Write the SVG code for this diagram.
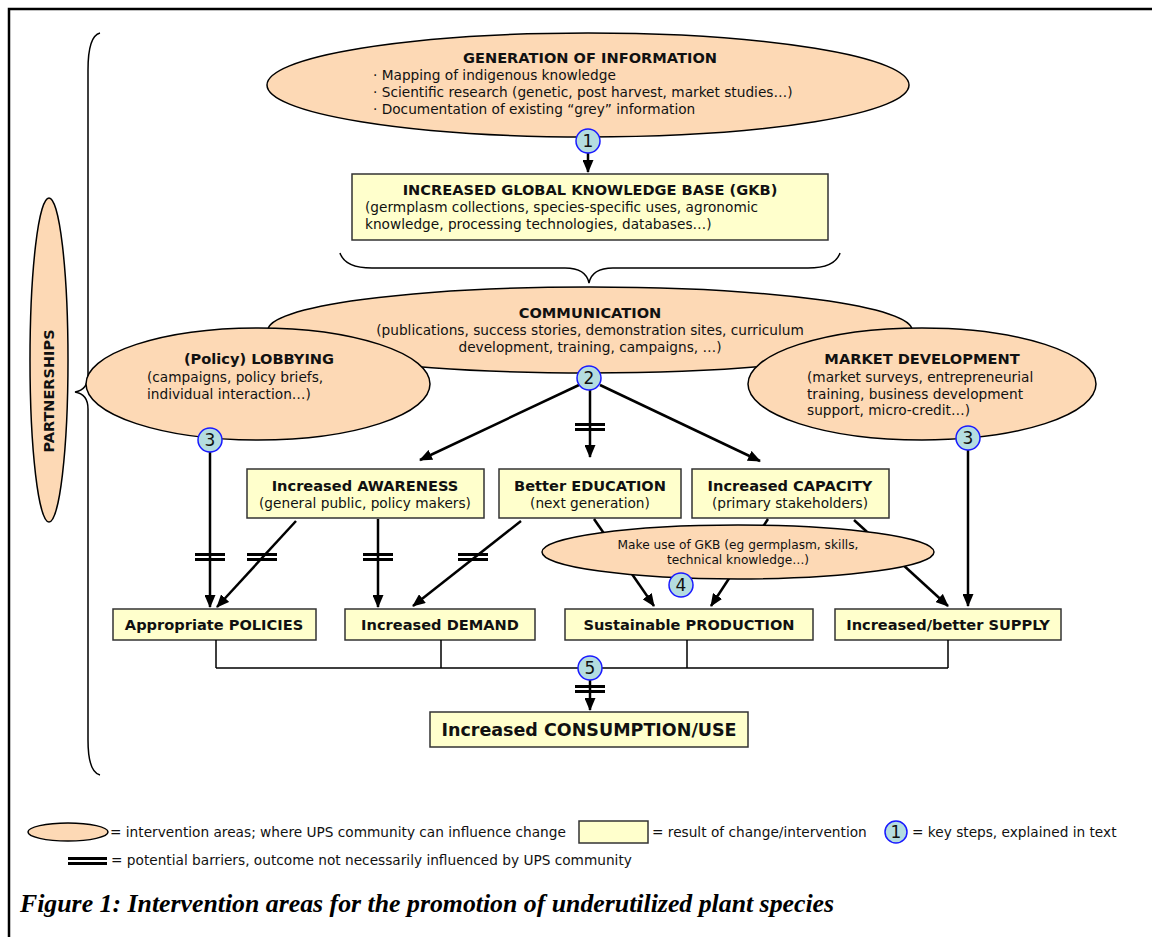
<svg xmlns="http://www.w3.org/2000/svg" width="1152" height="937" viewBox="0 0 1152 937">
<style>
  .ell { fill: #fdd9b5; stroke: #000; stroke-width: 1.5; }
  .box { fill: #ffffcc; stroke: #333; stroke-width: 1.5; }
  .step circle { fill: #b4dde0; stroke: #1a1aff; stroke-width: 1.5; }
  .step text { font-family: "DejaVu Sans", sans-serif; font-size: 17px; text-anchor: middle; fill: #111; }
  .t { font-family: "DejaVu Sans", sans-serif; fill: #111; }
  .b { font-weight: bold; font-size: 14.6px; }
  .r { font-size: 13.7px; }
  .c { text-anchor: middle; }
  .lg { font-size: 13.7px; }
  .conn { stroke: #000; stroke-width: 2.5; fill: none; }
  .thin { stroke: #000; stroke-width: 1.5; fill: none; }
  .brace { stroke: #000; stroke-width: 1.5; fill: none; }
</style>
<defs>
  <marker id="ah" markerUnits="userSpaceOnUse" markerWidth="13" markerHeight="11" refX="12" refY="5.5" orient="auto">
    <path d="M0,0 L13,5.5 L0,11 z" fill="#000"/>
  </marker>
  <g id="bar">
    <rect x="-15" y="-4" width="30" height="3" fill="#000"/>
    <rect x="-15" y="1" width="30" height="3" fill="#000"/>
  </g>
</defs>
<rect width="1152" height="937" fill="#fff"/>
<path d="M9,940 L9,9 L1160,9" fill="none" stroke="#000" stroke-width="2.5"/>

<g id="partnerships">
  <ellipse class="ell" cx="49" cy="360" rx="19" ry="162"/>
  <text class="t" font-weight="bold" font-size="14.5" text-anchor="middle" transform="translate(54,391) rotate(-90)">PARTNERSHIPS</text>
</g>
<path class="brace" d="M100,33 Q88,36 88,70 L88,375 Q88,390 75,392 Q88,394 88,409 L88,740 Q88,772 100,775"/>
<path class="brace" d="M340,253 Q345,268 372,268 L565,268 Q586,268 589,283 Q592,268 613,268 L808,268 Q835,268 840,253"/>

<g id="generation">
  <ellipse class="ell" cx="588" cy="85" rx="321" ry="52"/>
  <text class="t b c" x="590" y="63">GENERATION OF INFORMATION</text>
  <text class="t r" x="373" y="80">· Mapping of indigenous knowledge</text>
  <text class="t r" x="373" y="97">· Scientific research (genetic, post harvest, market studies…)</text>
  <text class="t r" x="373" y="114">· Documentation of existing “grey” information</text>
</g>

<g id="gkb">
  <rect class="box" x="352" y="174" width="476" height="66"/>
  <text class="t b c" x="590" y="195">INCREASED GLOBAL KNOWLEDGE BASE (GKB)</text>
  <text class="t r" x="365" y="212">(germplasm collections, species-specific uses, agronomic</text>
  <text class="t r" x="365" y="229">knowledge, processing technologies, databases…)</text>
</g>

<g id="communication">
  <ellipse class="ell" cx="590" cy="330" rx="322" ry="43"/>
  <text class="t b c" x="590" y="318">COMMUNICATION</text>
  <text class="t r c" x="590" y="335">(publications, success stories, demonstration sites, curriculum</text>
  <text class="t r c" x="590" y="352">development, training, campaigns, …)</text>
</g>

<g id="lobbying">
  <ellipse class="ell" cx="258" cy="384" rx="172" ry="56"/>
  <text class="t b c" x="259" y="364">(Policy) LOBBYING</text>
  <text class="t r" x="147" y="382">(campaigns, policy briefs,</text>
  <text class="t r" x="147" y="399">individual interaction…)</text>
</g>

<g id="market">
  <ellipse class="ell" cx="922" cy="384" rx="174" ry="56"/>
  <text class="t b c" x="922" y="364">MARKET DEVELOPMENT</text>
  <text class="t r" x="807" y="382">(market surveys, entrepreneurial</text>
  <text class="t r" x="807" y="399">training, business development</text>
  <text class="t r" x="807" y="415">support, micro-credit…)</text>
</g>

<g id="awareness">
  <rect class="box" x="247" y="469" width="237" height="49"/>
  <text class="t b c" x="365" y="491">Increased AWARENESS</text>
  <text class="t r c" x="365" y="508">(general public, policy makers)</text>
</g>
<g id="education">
  <rect class="box" x="499" y="469" width="182" height="49"/>
  <text class="t b c" x="590" y="491">Better EDUCATION</text>
  <text class="t r c" x="590" y="508">(next generation)</text>
</g>
<g id="capacity">
  <rect class="box" x="692" y="469" width="197" height="49"/>
  <text class="t b c" x="790" y="491">Increased CAPACITY</text>
  <text class="t r c" x="790" y="508">(primary stakeholders)</text>
</g>

<g id="policies">
  <rect class="box" x="113" y="609" width="203" height="31"/>
  <text class="t b c" x="214" y="630">Appropriate POLICIES</text>
</g>
<g id="demand">
  <rect class="box" x="345" y="609" width="190" height="31"/>
  <text class="t b c" x="440" y="630">Increased DEMAND</text>
</g>
<g id="production">
  <rect class="box" x="565" y="609" width="248" height="31"/>
  <text class="t b c" x="689" y="630">Sustainable PRODUCTION</text>
</g>
<g id="supply">
  <rect class="box" x="835" y="609" width="226" height="31"/>
  <text class="t b c" x="948" y="630">Increased/better SUPPLY</text>
</g>
<g id="consumption">
  <rect class="box" x="430" y="712" width="318" height="35"/>
  <text class="t c" font-weight="bold" font-size="17.5" x="589" y="736">Increased CONSUMPTION/USE</text>
</g>

<g id="connectors">
  <line class="conn" x1="588" y1="153" x2="588" y2="172" marker-end="url(#ah)"/>
  <line class="conn" x1="579" y1="385" x2="420" y2="460" marker-end="url(#ah)"/>
  <line class="conn" x1="590" y1="390" x2="590" y2="457" marker-end="url(#ah)"/>
  <line class="conn" x1="600" y1="385" x2="760" y2="461" marker-end="url(#ah)"/>
  <use href="#bar" x="590" y="427"/>
  <line class="conn" x1="210" y1="452" x2="210" y2="607" marker-end="url(#ah)"/>
  <use href="#bar" x="210" y="557"/>
  <line class="conn" x1="296" y1="521" x2="217" y2="607" marker-end="url(#ah)"/>
  <use href="#bar" x="262" y="557"/>
  <line class="conn" x1="378" y1="519" x2="378" y2="607" marker-end="url(#ah)"/>
  <use href="#bar" x="378" y="557"/>
  <line class="conn" x1="521" y1="521" x2="413" y2="606" marker-end="url(#ah)"/>
  <use href="#bar" x="473" y="557"/>
  <line class="conn" x1="594" y1="519" x2="654" y2="606" marker-end="url(#ah)"/>
  <line class="conn" x1="768" y1="519" x2="711" y2="606" marker-end="url(#ah)"/>
  <line class="conn" x1="854" y1="520" x2="948" y2="606" marker-end="url(#ah)"/>
  <line class="conn" x1="968" y1="450" x2="968" y2="606" marker-end="url(#ah)"/>
  <path class="thin" d="M216,640 V668 M441,640 V668 M687,640 V668 M948,640 V668 M216,668 H948"/>
  <line class="conn" x1="590" y1="680" x2="590" y2="710" marker-end="url(#ah)"/>
  <use href="#bar" x="590" y="689"/>
</g>

<g id="makeuse">
  <ellipse class="ell" cx="738" cy="552" rx="196" ry="27"/>
  <text class="t c" font-size="12.2" x="738" y="549">Make use of GKB (eg germplasm, skills,</text>
  <text class="t c" font-size="12.2" x="738" y="564">technical knowledge…)</text>
</g>

<g id="step1" class="step"><circle cx="588" cy="141" r="12"/><text x="588" y="147">1</text></g>
<g id="step2" class="step"><circle cx="589" cy="378" r="12"/><text x="589" y="384">2</text></g>
<g id="step3a" class="step"><circle cx="210" cy="440" r="12"/><text x="210" y="446">3</text></g>
<g id="step3b" class="step"><circle cx="968" cy="438" r="12"/><text x="968" y="444">3</text></g>
<g id="step4" class="step"><circle cx="681" cy="585" r="12"/><text x="681" y="591">4</text></g>
<g id="step5" class="step"><circle cx="590" cy="668" r="12"/><text x="590" y="674">5</text></g>

<g id="legend">
  <ellipse class="ell" cx="68" cy="832" rx="40" ry="9"/>
  <text class="t lg" x="110" y="837">= intervention areas; where UPS community can influence change</text>
  <rect class="box" x="579" y="821" width="69" height="22"/>
  <text class="t lg" x="652" y="837">= result of change/intervention</text>
  <g class="step"><circle cx="896" cy="832" r="11"/><text x="896" y="838" font-size="15">1</text></g>
  <text class="t lg" x="912" y="837">= key steps, explained in text</text>
  <rect x="68" y="857" width="39" height="3" fill="#000"/>
  <rect x="68" y="862" width="39" height="3" fill="#000"/>
  <text class="t lg" x="111" y="865">= potential barriers, outcome not necessarily influenced by UPS community</text>
</g>

<text x="20" y="912" font-family="Liberation Serif, serif" font-weight="bold" font-style="italic" font-size="25.8" fill="#000">Figure 1: Intervention areas for the promotion of underutilized plant species</text>
</svg>
